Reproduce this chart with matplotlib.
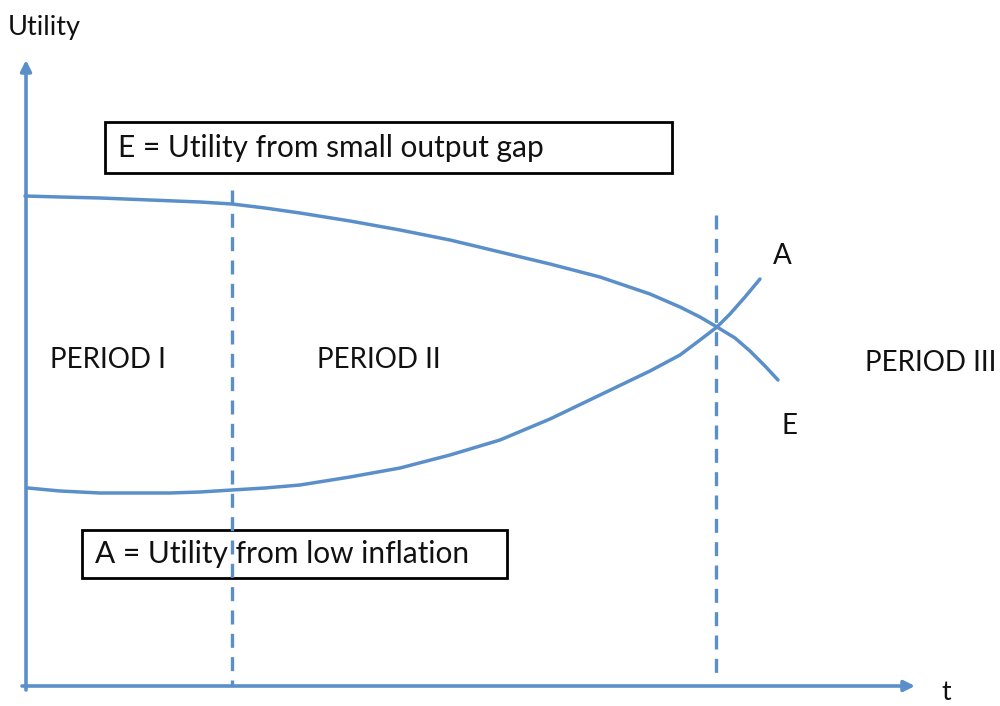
import matplotlib
matplotlib.use("Agg")
import matplotlib.pyplot as plt
from matplotlib.patches import Rectangle

plt.rcParams['font.family'] = ['Lato', 'DejaVu Sans']

H = 706  # canvas height in pixel-like units (utility axis measured upward)

# Curve E: utility from small output gap (t, utility)
e_t = [25, 60, 100, 150, 200, 232, 265, 300, 350, 400, 450, 500, 550, 600,
       650, 680, 700, 717, 735, 750, 765, 778]
e_px = [196, 197, 198, 200, 202, 204, 208, 213, 221, 230, 240, 252, 264, 277,
        294, 307, 317, 327, 338, 351, 366, 380]
e_u = [H - v for v in e_px]

# Curve A: utility from low inflation (t, utility)
a_t = [28, 60, 100, 133, 170, 200, 232, 265, 300, 350, 400, 450, 500, 550,
       600, 650, 680, 700, 717, 730, 745, 760]
a_px = [488, 491, 493, 493, 493, 492, 490, 488, 485, 477, 468, 455, 440, 419,
        395, 371, 355, 340, 327, 314, 297, 279]
a_u = [H - v for v in a_px]

# Period boundaries
period_bounds = [232, 716]
period_labels = ["PERIOD I", "PERIOD II", "PERIOD III"]
period_label_x = [50, 317, 865]
period_label_y = [346, 346, 343]

blue = '#5a8fca'
txt = '#111111'

fig = plt.figure(figsize=(10, 7.06), dpi=100)
ax = fig.add_axes([0, 0, 1, 1])
ax.set_xlim(0, 1000)
ax.set_ylim(0, H)
ax.axis('off')

# Axes with arrows
ax.annotate('', xy=(26, H - 60), xytext=(26, H - 690),
            arrowprops=dict(arrowstyle='-|>', color=blue, lw=2.6,
                            mutation_scale=16, shrinkA=0, shrinkB=0))
ax.annotate('', xy=(915, H - 686), xytext=(22, H - 686),
            arrowprops=dict(arrowstyle='-|>', color=blue, lw=2.6,
                            mutation_scale=16, shrinkA=0, shrinkB=0))

# Dashed period boundaries
ax.plot([period_bounds[0]] * 2, [H - 190, H - 686], color=blue, lw=2.4,
        linestyle=(0, (4.2, 2.8)))
ax.plot([period_bounds[1]] * 2, [H - 215, H - 680], color=blue, lw=2.4,
        linestyle=(0, (4.2, 2.8)))

# Curves
ax.plot(e_t, e_u, color=blue, lw=2.5, solid_capstyle='round', solid_joinstyle='round')
ax.plot(a_t, a_u, color=blue, lw=2.5, solid_capstyle='round', solid_joinstyle='round')

# Text boxes
ax.add_patch(Rectangle((105, H - 173), 567, 51, fill=False, ec='black', lw=2.0))
ax.text(118, H - 148, "E = Utility from small output gap", fontsize=21.5,
        va='center', ha='left', color=txt)
ax.add_patch(Rectangle((82, H - 578), 425, 48, fill=False, ec='black', lw=2.0))
ax.text(95, H - 554, "A = Utility from low inflation", fontsize=21.5,
        va='center', ha='left', color=txt)

# Period labels
for lbl, x, y in zip(period_labels, period_label_x, period_label_y):
    ax.text(x, y, lbl, fontsize=20, va='center', ha='left', color=txt)

# Curve labels and axis labels
ax.text(782, H - 256, "A", fontsize=20, va='center', ha='center', color=txt)
ax.text(790, H - 426, "E", fontsize=20, va='center', ha='center', color=txt)
ax.text(8, H - 28, "Utility", fontsize=19.5, va='center', ha='left', color=txt)
ax.text(946, H - 693, "t", fontsize=19, va='center', ha='center', color=txt)

fig.savefig("out.png", dpi=100)
